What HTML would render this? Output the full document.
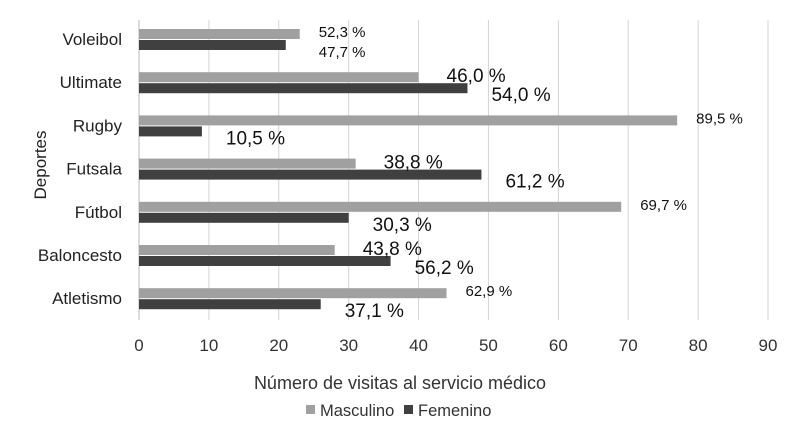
<!DOCTYPE html>
<html><head><meta charset="utf-8"><style>
body{margin:0;background:#fff;}
svg{font-family:"Liberation Sans",sans-serif;display:block}
</style></head><body>
<svg id="c" width="792" height="432"></svg>
<script>
const categories=["Voleibol","Ultimate","Rugby","Futsala","Fútbol","Baloncesto","Atletismo"];
const masculino=[23,40,77,31,69,28,44];
const femenino=[21,47,9,49,30,36,26];
const mascLabels=["52,3 %","46,0  %","89,5 %","38,8  %","69,7 %","43,8  %","62,9 %"];
const femLabels=["47,7 %","54,0  %","10,5  %","61,2  %","30,3  %","56,2  %","37,1  %"];
const mascLabelBig=[0,1,0,1,0,1,0];
const femLabelBig=[0,1,1,1,1,1,1];
const ticks=[0,10,20,30,40,50,60,70,80,90];

const NS="http://www.w3.org/2000/svg";
const svgEl=document.getElementById('c');
function mk(t,a,txt){const e=document.createElementNS(NS,t);for(const k in a)e.setAttribute(k,a[k]);if(txt!=null)e.textContent=txt;svgEl.appendChild(e);return e;}
const x0=139,x1=768,plotTop=20,plotBot=320;
const xs=v=>x0+(x1-x0)*v/90;
const rowC=i=>40+i*43.2;

ticks.forEach(t=>{
  const g=mk('line',{x1:xs(t),x2:xs(t),y1:plotTop,y2:plotBot,stroke:t===0?'#bbb':'#d4d4d4','stroke-width':1});
  
  
  const l=mk('text',{x:xs(t),y:351,'font-size':17,'text-anchor':'middle',fill:'#333'},t);
  
  
});
categories.forEach((c,i)=>{
  const cy=rowC(i);
  const l=mk('text',{x:122,y:cy+5,'font-size':17,'text-anchor':'end',fill:'#222'},c);
  
  
  const bm=mk('rect',{x:x0,y:cy-11,width:xs(masculino[i])-x0,height:10,fill:'#a0a0a0'});
  
  
  const bf=mk('rect',{x:x0,y:cy,width:xs(femenino[i])-x0,height:10,fill:'#404040'});
  
  
  const mb=mascLabelBig[i];
  const lm=mk('text',{x:xs(masculino[i])+(mb?28:19),y:cy-(mb?1:3),'font-size':mb?19:15,fill:'#111'},mascLabels[i]);
  
  
  const fb=femLabelBig[i];
  const lf=mk('text',{x:xs(femenino[i])+(fb?24:33),y:cy+(fb?18:17),'font-size':fb?19:15,fill:'#111'},femLabels[i]);
  
  
});
const xt=mk('text',{x:400,y:389,'font-size':18,'text-anchor':'middle',fill:'#333'},'Número de visitas al servicio médico');


const yt=mk('text',{x:0,y:0,'font-size':17,'text-anchor':'middle',fill:'#222',transform:'translate(46,165) rotate(-90)'},'Deportes');


const s1=mk('rect',{x:306,y:405,width:9,height:9,fill:'#a0a0a0'});


const t1=mk('text',{x:320,y:416,'font-size':16.5,fill:'#333'},'Masculino');


const s2=mk('rect',{x:404,y:405,width:9,height:9,fill:'#404040'});


const t2=mk('text',{x:418,y:416,'font-size':16.5,fill:'#333'},'Femenino');


</script>
</body></html>
